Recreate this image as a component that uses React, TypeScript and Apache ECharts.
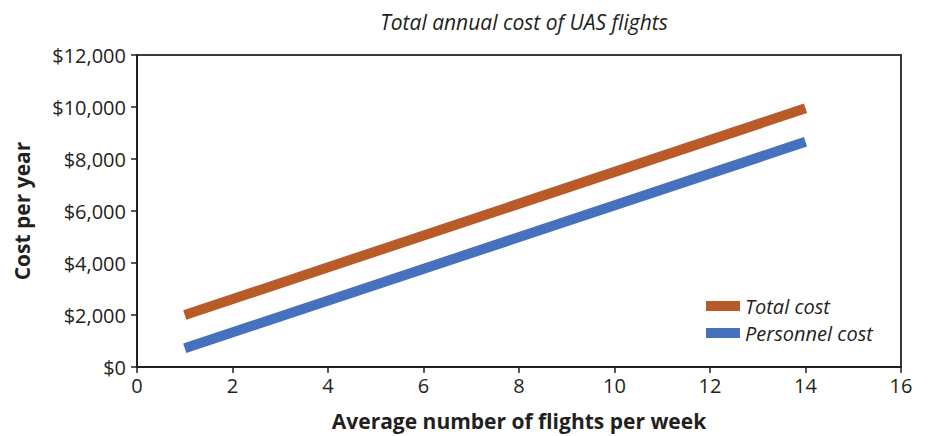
import React, { useEffect, useRef } from "react";
import * as echarts from "echarts";

const flights = [1, 14];
const totalCost = [2000, 9950];
const personnelCost = [720, 8660];
const xTicks = [0, 2, 4, 6, 8, 10, 12, 14, 16];
const seriesNames = ["Total cost", "Personnel cost"];

const FONT = "'Open Sans', 'Noto Sans', sans-serif";

export default function App() {
  const ref = useRef<HTMLDivElement>(null);
  useEffect(() => {
    document.body.style.margin = "0";
    const chart = echarts.init(ref.current!, null, { renderer: "svg" });
    chart.setOption({
      animation: false,
      backgroundColor: "#ffffff",
      title: {
        text: "Total annual cost of UAS flights",
        left: 519,
        top: 6,
        textAlign: "center",
        textStyle: { fontFamily: FONT, fontStyle: "italic", fontWeight: "normal", fontSize: 21, color: "#231f20" },
      },
      grid: { left: 137, right: 27, top: 55, bottom: 65, show: true, borderColor: "#3a3a3a", borderWidth: 2 },
      legend: {
        left: 701,
        top: 291,
        orient: "vertical",
        itemWidth: 34,
        itemHeight: 10,
        itemGap: 7,
        icon: "rect",
        textStyle: { fontFamily: FONT, fontStyle: "italic", fontSize: 20, lineHeight: 20, color: "#231f20" },
        data: seriesNames,
      },
      xAxis: {
        type: "value",
        min: xTicks[0],
        max: xTicks[xTicks.length - 1],
        interval: 2,
        name: "Average number of flights per week",
        nameLocation: "middle",
        nameGap: 43,
        nameTextStyle: { fontFamily: FONT, fontWeight: "bold", fontSize: 21, color: "#231f20" },
        axisLine: { show: true, lineStyle: { color: "#231f20", width: 2 } },
        axisTick: { show: true, length: 6, lineStyle: { color: "#231f20", width: 1.5 } },
        axisLabel: { fontFamily: FONT, fontSize: 20, color: "#231f20", margin: 8 },
        splitLine: { show: false },
      },
      yAxis: {
        type: "value",
        min: 0,
        max: 12000,
        interval: 2000,
        name: "Cost per year",
        nameLocation: "middle",
        nameGap: 105,
        nameTextStyle: { fontFamily: FONT, fontWeight: "bold", fontSize: 21, color: "#231f20" },
        axisLine: { show: true, lineStyle: { color: "#231f20", width: 2 } },
        axisTick: { show: true, length: 6, lineStyle: { color: "#231f20", width: 1.5 } },
        axisLabel: {
          fontFamily: FONT,
          fontSize: 20,
          color: "#231f20",
          margin: 11,
          formatter: (v: number) => "$" + v.toLocaleString("en-US"),
        },
        splitLine: { show: false },
      },
      series: [
        {
          name: seriesNames[0],
          type: "line",
          data: flights.map((x, i) => [x, totalCost[i]]),
          showSymbol: false,
          symbol: "none",
          color: "#b95b28",
          lineStyle: { width: 10, color: "#b95b28", cap: "butt" },
        },
        {
          name: seriesNames[1],
          type: "line",
          data: flights.map((x, i) => [x, personnelCost[i]]),
          showSymbol: false,
          symbol: "none",
          color: "#4571bd",
          lineStyle: { width: 10, color: "#4571bd", cap: "butt" },
        },
      ],
    });
    return () => chart.dispose();
  }, []);
  return <div ref={ref} style={{ width: 928, height: 436 }} />;
}
